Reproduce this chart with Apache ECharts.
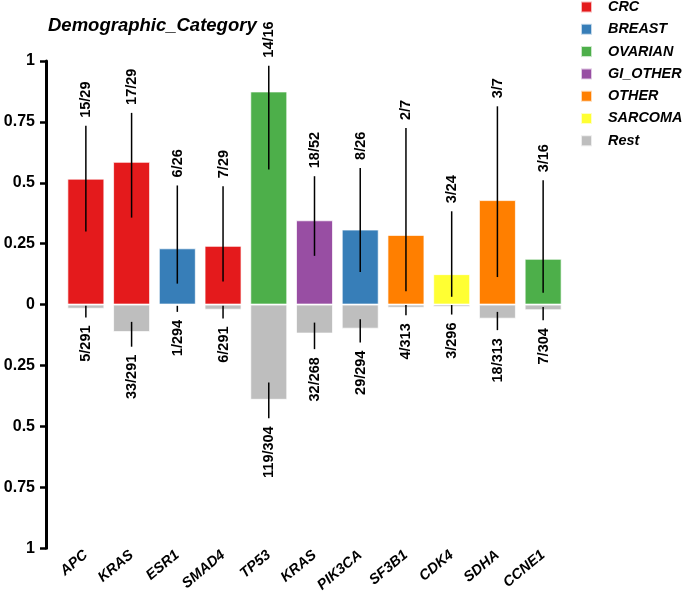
<!DOCTYPE html>
<html>
<head>
<meta charset="utf-8">
<script src="https://cdn.jsdelivr.net/npm/echarts@6/dist/echarts.min.js"></script>
<style>
html,body{margin:0;padding:0;background:#fff;}
#chart{width:685px;height:595px;}
</style>
</head>
<body>
<div id="chart"></div>
<script>
var categories = ['APC','KRAS','ESR1','SMAD4','TP53','KRAS','PIK3CA','SF3B1','CDK4','SDHA','CCNE1'];
var groups = ['CRC','CRC','BREAST','CRC','OVARIAN','GI_OTHER','BREAST','OTHER','SARCOMA','OTHER','OVARIAN'];
var groupNames = ['CRC','BREAST','OVARIAN','GI_OTHER','OTHER','SARCOMA','Rest'];
var groupColors = ['#E41A1C','#377EB8','#4DAF4A','#984EA3','#FF7F00','#FFFF33','#BEBEBE'];

var posCounts = [15,17,6,7,14,18,8,2,3,3,3];
var posTotals = [29,29,26,29,16,52,26,7,24,7,16];
var posValues = [0.517,0.586,0.231,0.241,0.875,0.346,0.308,0.286,0.125,0.429,0.188];
var posLow  = [0.300,0.357,0.086,0.095,0.555,0.200,0.134,0.055,0.032,0.113,0.049];
var posHigh = [0.734,0.787,0.489,0.486,0.981,0.527,0.561,0.725,0.383,0.814,0.510];

var restCounts = [5,33,1,6,119,32,29,4,3,18,7];
var restTotals = [291,291,294,291,304,268,294,313,296,313,304];
var restValues = [0.017,0.113,0.0034,0.021,0.391,0.119,0.099,0.013,0.010,0.058,0.023];
var restLow  = [0.005,0.071,0.005,0.005,0.320,0.074,0.060,0.002,0.002,0.030,0.010];
var restHigh = [0.053,0.173,0.030,0.057,0.467,0.183,0.156,0.044,0.041,0.105,0.064];

var yTicks = [-1,-0.75,-0.5,-0.25,0,0.25,0.5,0.75,1];

var FONT = '"Liberation Sans", Arial, sans-serif';
var chart = echarts.init(document.getElementById('chart'), null, {renderer:'canvas'});

var series = [];
groupNames.forEach(function(g, gi){
  var data;
  if (g === 'Rest') {
    data = restValues.map(function(v){ return -v; });
  } else {
    data = posValues.map(function(v, i){ return groups[i] === g ? v : '-'; });
  }
  series.push({
    name: g,
    type: 'bar',
    stack: 'all',
    barWidth: 37,
    data: data,
    itemStyle: {color: groupColors[gi], borderColor: 'rgba(255,255,255,0.7)', borderWidth: 1},
    emphasis: {disabled: true}
  });
});

function makeErr(lows, highs, counts, totals, sign){
  return {
    type: 'custom',
    name: sign > 0 ? 'errPos' : 'errNeg',
    z: 10,
    silent: true,
    clip: false,
    data: categories.map(function(c, i){ return [i, sign*lows[i], sign*highs[i]]; }),
    encode: {x: 0, y: [1, 2]},
    renderItem: function(params, api){
      var i = params.dataIndex;
      var a = api.coord([api.value(0), api.value(1)]);
      var b = api.coord([api.value(0), api.value(2)]);
      var ty = sign > 0 ? b[1] - 8 : b[1] + 8;
      return {
        type: 'group',
        children: [
          {type: 'line', shape: {x1: a[0], y1: a[1], x2: b[0], y2: b[1]},
           style: {stroke: '#000', lineWidth: 1.5}},
          {type: 'text', x: b[0] + 0.5, y: ty, rotation: Math.PI / 2,
           style: {text: counts[i] + '/' + totals[i], font: 'bold 14.5px ' + FONT,
                   fill: '#000', align: sign > 0 ? 'left' : 'right', verticalAlign: 'middle'}}
        ]
      };
    }
  };
}
series.push(makeErr(posLow, posHigh, posCounts, posTotals, 1));
series.push(makeErr(restLow, restHigh, restCounts, restTotals, -1));

var option = {
  animation: false,
  backgroundColor: '#fff',
  textStyle: {fontFamily: FONT},
  title: {
    text: 'Demographic_Category',
    left: 43, top: 11,
    textStyle: {fontFamily: FONT, fontSize: 18.5, fontWeight: 'bold', fontStyle: 'italic', color: '#000'}
  },
  legend: {
    orient: 'vertical',
    left: 580, top: 0,
    padding: 0,
    itemWidth: 11, itemHeight: 11, itemGap: 8.3,
    icon: 'rect',
    data: groupNames,
    selectedMode: false,
    textStyle: {fontFamily: FONT, fontSize: 14.4, fontWeight: 'bold', fontStyle: 'italic', color: '#000',
                padding: [0, 0, 0, 11]}
  },
  grid: {left: 63, right: 119, top: 61, bottom: 44, containLabel: false},
  xAxis: {
    type: 'category',
    data: categories,
    axisLine: {show: false},
    axisTick: {show: false},
    axisLabel: {
      interval: 0, rotate: 40, margin: 5,
      fontFamily: FONT, fontSize: 14.5, fontWeight: 'bold', fontStyle: 'italic', color: '#000'
    }
  },
  yAxis: {
    type: 'value',
    min: -1, max: 1, interval: 0.25,
    offset: 17,
    axisLine: {show: true, lineStyle: {color: '#000', width: 3}},
    axisTick: {show: true, length: 6, lineStyle: {color: '#000', width: 2.5}},
    splitLine: {show: false},
    axisLabel: {
      margin: 11,
      fontFamily: FONT, fontSize: 16, fontWeight: 'bold', color: '#000',
      formatter: function(v){
        var a = Math.abs(v);
        for (var k = 0; k < yTicks.length; k++) if (Math.abs(Math.abs(yTicks[k]) - a) < 1e-9) return String(Math.abs(yTicks[k]));
        return String(a);
      }
    }
  },
  series: series
};
chart.setOption(option);
</script>
</body>
</html>
